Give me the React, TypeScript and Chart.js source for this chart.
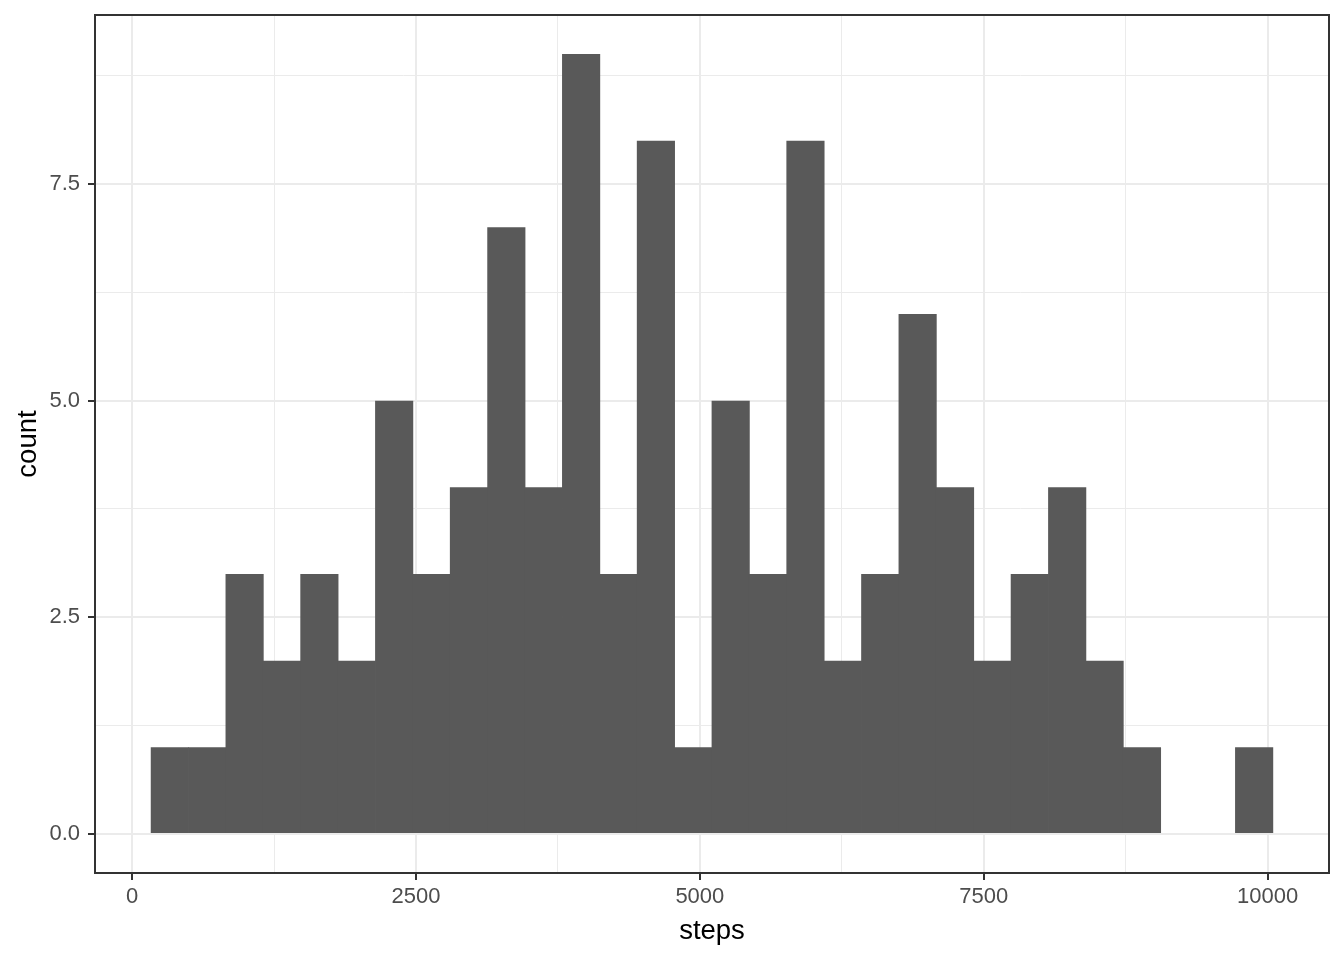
import React, { useEffect, useRef } from "react";
import { Chart, registerables } from "chart.js";

Chart.register(...registerables);

// Histogram bins (centres, in steps) and counts
const binCenters = [
  332, 661.3, 990.6, 1319.9, 1649.2, 1978.5, 2307.8, 2637.1, 2966.4, 3295.7,
  3625, 3954.3, 4283.6, 4612.9, 4942.2, 5271.5, 5600.8, 5930.1, 6259.4, 6588.7,
  6918, 7247.3, 7576.6, 7905.9, 8235.2, 8564.5, 8893.8, 9223.1, 9552.4, 9881.7,
];
const counts = [
  1, 1, 3, 2, 3, 2, 5, 3, 4, 7, 4, 9, 3, 8, 1, 5, 3, 8, 2, 3, 6, 4, 2, 3, 4, 2, 1, 0, 0, 1,
];

const xMajorTicks = [0, 2500, 5000, 7500, 10000];
const xMinorTicks = [1250, 3750, 6250, 8750];
const yMajorTicks = [0, 2.5, 5, 7.5];
const yMinorTicks = [1.25, 3.75, 6.25, 8.75];
const xRange = [-327, 10541];
const yRange = [-0.45, 9.45];

const FONT = "'Liberation Sans', Arial, sans-serif";

const panelBorder = {
  id: "panelBorder",
  afterDatasetsDraw(chart: any) {
    const { ctx, chartArea } = chart;
    ctx.save();
    ctx.strokeStyle = "#333333";
    ctx.lineWidth = 2;
    ctx.strokeRect(
      chartArea.left,
      chartArea.top,
      chartArea.right - chartArea.left,
      chartArea.bottom - chartArea.top
    );
    ctx.restore();
  },
};

export default function App() {
  const ref = useRef<HTMLCanvasElement>(null);

  useEffect(() => {
    if (!ref.current) return;
    const isMajor = (v: number, majors: number[]) => majors.includes(v);
    const chart = new Chart(ref.current, {
      type: "bar",
      data: {
        datasets: [
          {
            data: binCenters.map((x, i) => ({ x, y: counts[i] })),
            backgroundColor: "#595959",
            borderWidth: 0,
            barPercentage: 1.02,
            categoryPercentage: 1,
          },
        ],
      },
      options: {
        animation: false,
        responsive: false,
        devicePixelRatio: 1,
        layout: { padding: { top: 15, right: 15, left: 0, bottom: 0 } },
        plugins: { legend: { display: false }, tooltip: { enabled: false } },
        scales: {
          x: {
            type: "linear",
            offset: false,
            min: xRange[0],
            max: xRange[1],
            afterBuildTicks: (scale: any) => {
              scale.ticks = [...xMajorTicks, ...xMinorTicks]
                .sort((a, b) => a - b)
                .map((v) => ({ value: v }));
            },
            afterFit: (scale: any) => {
              scale.height = 87;
              scale.paddingLeft = 0;
              scale.paddingRight = 0;
            },
            grid: {
              offset: false,
              drawTicks: true,
              tickLength: 7,
              color: "#EBEBEB",
              lineWidth: (ctx: any) =>
                ctx.tick && isMajor(ctx.tick.value, xMajorTicks) ? 2 : 1,
              tickColor: (ctx: any) =>
                ctx.tick && isMajor(ctx.tick.value, xMajorTicks)
                  ? "#333333"
                  : "rgba(0,0,0,0)",
              tickWidth: 2,
            },
            border: { display: false },
            ticks: {
              autoSkip: false,
              maxRotation: 0,
              padding: 4,
              color: "#4D4D4D",
              font: { family: FONT, size: 22 },
              callback: (v: any) =>
                isMajor(Number(v), xMajorTicks) ? String(v) : "",
            },
            title: {
              display: true,
              text: "steps",
              color: "#000000",
              font: { family: FONT, size: 27.5 },
              padding: { top: 0, bottom: 11.75 },
            },
          },
          y: {
            type: "linear",
            min: yRange[0],
            max: yRange[1],
            afterBuildTicks: (scale: any) => {
              scale.ticks = [...yMajorTicks, ...yMinorTicks]
                .sort((a, b) => a - b)
                .map((v) => ({ value: v }));
            },
            afterFit: (scale: any) => {
              scale.width = 95;
              scale.paddingTop = 0;
              scale.paddingBottom = 0;
            },
            grid: {
              drawTicks: true,
              tickLength: 7,
              color: "#EBEBEB",
              lineWidth: (ctx: any) =>
                ctx.tick && isMajor(ctx.tick.value, yMajorTicks) ? 2 : 1,
              tickColor: (ctx: any) =>
                ctx.tick && isMajor(ctx.tick.value, yMajorTicks)
                  ? "#333333"
                  : "rgba(0,0,0,0)",
              tickWidth: 2,
            },
            border: { display: false },
            ticks: {
              autoSkip: false,
              padding: 8,
              color: "#4D4D4D",
              font: { family: FONT, size: 22 },
              callback: (v: any) =>
                isMajor(Number(v), yMajorTicks) ? Number(v).toFixed(1) : "",
            },
            title: {
              display: true,
              text: "count",
              color: "#000000",
              font: { family: FONT, size: 27.5 },
              padding: { top: 12.25, bottom: 0 },
            },
          },
        },
      },
      plugins: [panelBorder],
    } as any);
    return () => chart.destroy();
  }, []);

  return (
    <div
      style={{
        position: "absolute",
        left: 0,
        top: 0,
        width: 1344,
        height: 960,
        background: "#ffffff",
      }}
    >
      <canvas ref={ref} width={1344} height={960} />
    </div>
  );
}
